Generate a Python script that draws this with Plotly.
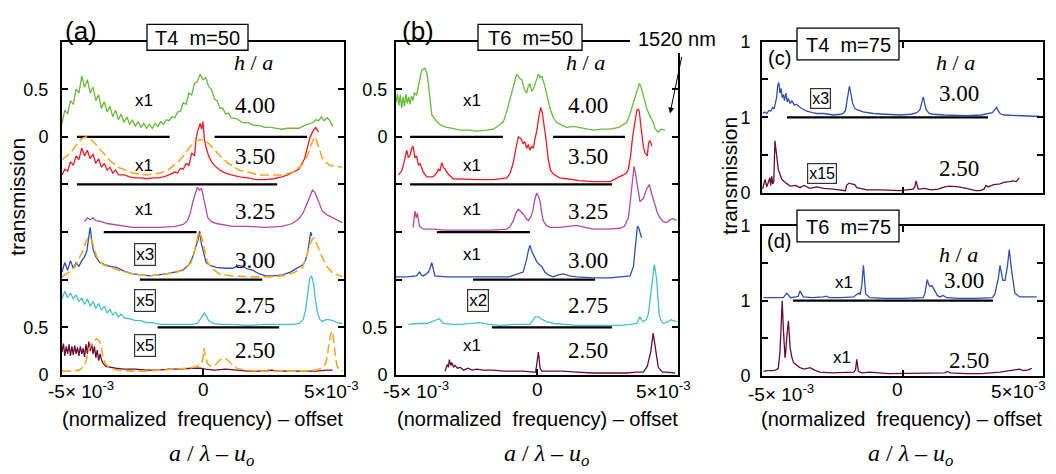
import plotly.graph_objects as go

W, H = 1056, 474

# ---------------- data (x in units of 1e-3; y = displayed transmission above each trace's baseline) -------------
# panel (a)  T4 m=50
a400_x = [-5.0,-4.9,-4.8,-4.7,-4.6,-4.5,-4.4,-4.3,-4.2,-4.1,-4.0,-3.9,-3.8,-3.7,-3.6,-3.5,-3.4,-3.3,-3.2,-3.1,-3.0,-2.9,-2.8,-2.7,-2.6,-2.5,-2.4,-2.3,-2.2,-2.1,-2.0,-1.9,-1.8,-1.7,-1.6,-1.5,-1.4,-1.3,-1.2,-1.1,-1.0,-0.9,-0.8,-0.7,-0.6,-0.5,-0.4,-0.3,-0.2,-0.1,0.0,0.1,0.2,0.3,0.4,0.5,0.6,0.7,0.8,0.9,1.0,1.2,1.4,1.6,1.8,2.0,2.2,2.4,2.6,2.8,3.0,3.2,3.4,3.6,3.8,3.9,4.0,4.1,4.2,4.3,4.4,4.5,4.6]
a400_y = [0.14,0.28,0.24,0.38,0.34,0.50,0.46,0.64,0.52,0.60,0.46,0.52,0.38,0.44,0.30,0.37,0.26,0.32,0.21,0.28,0.18,0.24,0.15,0.21,0.13,0.18,0.11,0.16,0.10,0.14,0.09,0.13,0.09,0.14,0.11,0.16,0.13,0.18,0.17,0.21,0.20,0.26,0.27,0.36,0.34,0.46,0.44,0.56,0.58,0.66,0.60,0.62,0.53,0.50,0.40,0.38,0.30,0.30,0.24,0.25,0.20,0.19,0.15,0.15,0.12,0.12,0.10,0.10,0.09,0.08,0.09,0.09,0.09,0.12,0.14,0.15,0.18,0.17,0.21,0.17,0.20,0.17,0.11]

a350_x = [-5.0,-4.9,-4.8,-4.7,-4.6,-4.5,-4.4,-4.3,-4.2,-4.1,-4.0,-3.9,-3.8,-3.7,-3.6,-3.5,-3.4,-3.3,-3.2,-3.1,-3.0,-2.8,-2.6,-2.4,-2.2,-2.0,-1.8,-1.6,-1.4,-1.2,-1.0,-0.9,-0.8,-0.7,-0.6,-0.5,-0.4,-0.3,-0.25,-0.2,-0.1,-0.05,0.0,0.05,0.1,0.2,0.3,0.4,0.6,0.8,1.0,1.3,1.6,1.9,2.2,2.5,2.8,3.0,3.2,3.4,3.6,3.7,3.8,3.9,4.0,4.1]
a350_y = [0.10,0.16,0.14,0.24,0.20,0.30,0.26,0.38,0.30,0.36,0.27,0.32,0.22,0.27,0.18,0.22,0.15,0.18,0.12,0.15,0.10,0.10,0.08,0.07,0.07,0.06,0.07,0.07,0.08,0.10,0.13,0.12,0.17,0.16,0.22,0.20,0.33,0.30,0.47,0.55,0.64,0.58,0.66,0.47,0.40,0.30,0.24,0.20,0.15,0.12,0.10,0.08,0.07,0.05,0.05,0.06,0.08,0.10,0.13,0.16,0.27,0.38,0.50,0.56,0.60,0.55]
a350fit_x = [-5.0,-4.7,-4.5,-4.3,-4.15,-4.0,-3.8,-3.6,-3.3,-3.0,-2.5,-2.0,-1.5,-1.2,-0.8,-0.5,-0.3,-0.1,0.1,0.3,0.6,0.9,1.3,2.0,2.8,3.2,3.5,3.7,3.85,3.98,4.1,4.25,4.5,4.95]
a350fit_y = [0.26,0.33,0.41,0.48,0.50,0.48,0.42,0.35,0.25,0.18,0.12,0.10,0.12,0.16,0.26,0.38,0.45,0.47,0.46,0.40,0.30,0.22,0.15,0.10,0.10,0.13,0.20,0.30,0.43,0.50,0.40,0.26,0.20,0.18]

a325_x = [-4.2,-4.1,-4.0,-3.9,-3.8,-3.6,-3.4,-3.0,-2.5,-2.0,-1.5,-1.0,-0.7,-0.55,-0.45,-0.36,-0.28,-0.2,-0.12,-0.05,0.05,0.17,0.3,0.47,1.05,1.6,2.2,2.8,3.17,3.4,3.55,3.7,3.8,3.88,3.96,4.06,4.15,4.23,4.4,4.59,4.94]
a325_y = [0.11,0.15,0.13,0.15,0.12,0.11,0.09,0.07,0.05,0.05,0.05,0.06,0.08,0.12,0.20,0.32,0.40,0.47,0.44,0.46,0.32,0.15,0.11,0.09,0.06,0.06,0.05,0.06,0.09,0.14,0.20,0.30,0.38,0.44,0.42,0.35,0.28,0.22,0.18,0.15,0.10]

a300_x = [-5.0,-4.9,-4.8,-4.7,-4.6,-4.5,-4.4,-4.3,-4.2,-4.12,-4.05,-4.0,-3.95,-3.89,-3.8,-3.66,-3.5,-3.3,-3.07,-2.8,-2.48,-2.2,-1.89,-1.6,-1.3,-1.0,-0.71,-0.5,-0.36,-0.24,-0.18,-0.12,-0.06,0.0,0.11,0.25,0.47,0.8,1.05,1.25,1.41,1.6,1.76,2.0,2.23,2.5,2.82,3.1,3.41,3.55,3.64,3.72,3.78,3.82,3.86]
a300_y = [0.08,0.18,0.10,0.20,0.12,0.18,0.14,0.20,0.24,0.30,0.45,0.55,0.42,0.31,0.24,0.18,0.16,0.14,0.13,0.09,0.06,0.05,0.04,0.05,0.06,0.08,0.10,0.16,0.24,0.36,0.41,0.51,0.38,0.31,0.18,0.15,0.13,0.12,0.12,0.15,0.14,0.11,0.10,0.06,0.04,0.04,0.05,0.08,0.13,0.16,0.21,0.30,0.42,0.50,0.46]
a300fit_x = [-5.0,-4.75,-4.55,-4.4,-4.25,-4.15,-4.07,-3.95,-3.77,-3.55,-3.3,-3.0,-2.48,-1.9,-1.3,-0.9,-0.55,-0.42,-0.3,-0.24,-0.15,-0.07,0.0,0.1,0.17,0.3,0.58,1.0,1.76,2.5,2.82,3.2,3.53,3.68,3.76,3.88,3.94,4.0,4.12,4.25,4.41,4.6,4.94]
a300fit_y = [0.03,0.08,0.13,0.22,0.31,0.40,0.45,0.42,0.24,0.16,0.13,0.10,0.06,0.04,0.06,0.08,0.14,0.18,0.30,0.38,0.50,0.46,0.40,0.25,0.18,0.12,0.06,0.04,0.03,0.03,0.04,0.07,0.13,0.25,0.35,0.43,0.44,0.40,0.31,0.22,0.13,0.07,0.03]

a275_x = [-5.0,-4.9,-4.8,-4.7,-4.6,-4.5,-4.4,-4.3,-4.2,-4.1,-4.0,-3.9,-3.8,-3.7,-3.6,-3.5,-3.4,-3.3,-3.2,-3.1,-3.0,-2.9,-2.8,-2.6,-2.4,-2.2,-2.0,-1.8,-1.5,-1.3,-1.0,-0.7,-0.4,-0.2,-0.1,0.0,0.05,0.11,0.2,0.35,0.6,1.0,1.6,2.2,2.8,3.2,3.41,3.55,3.64,3.72,3.78,3.85,3.92,3.98,4.06,4.15,4.23,4.35,4.47,4.6,4.75,4.94]
a275_y = [0.30,0.38,0.31,0.36,0.30,0.34,0.27,0.31,0.24,0.30,0.22,0.27,0.20,0.25,0.18,0.22,0.15,0.19,0.13,0.16,0.11,0.14,0.10,0.09,0.07,0.07,0.05,0.05,0.03,0.03,0.03,0.03,0.03,0.04,0.08,0.13,0.15,0.12,0.07,0.04,0.03,0.03,0.02,0.03,0.03,0.03,0.04,0.08,0.18,0.36,0.51,0.54,0.46,0.30,0.15,0.08,0.06,0.08,0.08,0.07,0.05,0.04]

a250_x = [-5.0,-4.95,-4.9,-4.85,-4.8,-4.75,-4.7,-4.65,-4.6,-4.55,-4.5,-4.45,-4.4,-4.35,-4.3,-4.25,-4.2,-4.15,-4.1,-4.05,-4.0,-3.95,-3.9,-3.85,-3.8,-3.75,-3.7,-3.65,-3.6,-3.54,-3.45,-3.3,-3.1,-2.8,-2.4,-2.0,-1.6,-1.2,-0.8,-0.4,-0.1,0.1,0.4,0.8,1.2,1.6,2.0,2.4,2.8,3.2,3.6,4.0,4.4,4.6]
a250_y = [0.24,0.33,0.20,0.30,0.22,0.32,0.20,0.30,0.21,0.31,0.22,0.29,0.20,0.30,0.22,0.28,0.19,0.32,0.22,0.35,0.25,0.33,0.22,0.30,0.18,0.26,0.15,0.22,0.16,0.12,0.09,0.08,0.07,0.06,0.06,0.05,0.05,0.06,0.06,0.07,0.07,0.06,0.05,0.06,0.05,0.04,0.04,0.05,0.04,0.04,0.04,0.04,0.05,0.05]
a250fit_x = [-5.0,-4.7,-4.4,-4.25,-4.15,-4.07,-3.95,-3.85,-3.77,-3.66,-3.6,-3.54,-3.45,-3.3,-3.0,-2.5,-2.0,-1.5,-1.0,-0.5,-0.2,-0.05,0.0,0.03,0.07,0.15,0.3,0.45,0.6,0.82,1.0,1.2,1.5,2.0,2.5,3.0,3.5,4.0,4.2,4.35,4.41,4.47,4.53,4.59,4.65,4.72,4.76,4.85,4.95]
a250fit_y = [0.04,0.04,0.05,0.08,0.14,0.25,0.33,0.36,0.38,0.35,0.28,0.17,0.11,0.07,0.05,0.04,0.04,0.05,0.06,0.07,0.09,0.12,0.18,0.28,0.22,0.12,0.09,0.11,0.16,0.17,0.12,0.07,0.05,0.04,0.04,0.04,0.04,0.05,0.07,0.12,0.20,0.33,0.43,0.46,0.30,0.15,0.09,0.05,0.04]

# panel (b)  T6 m=50
b400_x = [-5.0,-4.95,-4.9,-4.85,-4.8,-4.75,-4.7,-4.65,-4.6,-4.55,-4.5,-4.45,-4.4,-4.35,-4.27,-4.18,-4.09,-3.97,-3.9,-3.85,-3.8,-3.73,-3.65,-3.56,-3.4,-3.2,-3.0,-2.73,-2.4,-2.14,-1.8,-1.55,-1.35,-1.19,-1.08,-0.96,-0.84,-0.72,-0.63,-0.54,-0.45,-0.37,-0.31,-0.25,-0.19,-0.13,-0.04,0.05,0.11,0.17,0.28,0.37,0.46,0.58,0.70,0.9,1.05,1.3,1.52,1.8,2.0,2.3,2.59,2.9,3.18,3.3,3.42,3.52,3.63,3.69,3.75,3.82,3.89,4.0,4.12,4.2,4.3,4.4,4.54]
b400_y = [0.36,0.45,0.33,0.44,0.30,0.42,0.32,0.45,0.35,0.42,0.34,0.43,0.38,0.46,0.44,0.58,0.70,0.72,0.66,0.55,0.40,0.23,0.20,0.16,0.12,0.10,0.09,0.07,0.07,0.06,0.07,0.08,0.12,0.16,0.26,0.40,0.55,0.66,0.62,0.60,0.50,0.46,0.53,0.56,0.48,0.50,0.58,0.66,0.62,0.64,0.53,0.40,0.30,0.20,0.15,0.12,0.10,0.11,0.10,0.08,0.07,0.08,0.08,0.10,0.15,0.24,0.36,0.45,0.56,0.52,0.46,0.38,0.30,0.22,0.15,0.08,0.05,0.08,0.07]

b350_x = [-4.92,-4.8,-4.74,-4.68,-4.62,-4.56,-4.5,-4.44,-4.39,-4.33,-4.27,-4.2,-4.15,-4.03,-3.91,-3.68,-3.56,-3.5,-3.44,-3.38,-3.32,-3.26,-3.15,-2.97,-2.5,-2.14,-1.55,-1.07,-0.95,-0.84,-0.75,-0.66,-0.57,-0.49,-0.43,-0.37,-0.31,-0.25,-0.19,-0.13,-0.07,-0.01,0.06,0.13,0.19,0.25,0.33,0.40,0.48,0.58,0.8,1.05,1.5,2.0,2.59,3.06,3.17,3.24,3.32,3.39,3.47,3.54,3.6,3.63,3.67,3.71,3.77,3.83,3.91,3.96,4.01,4.08]
b350_y = [0.10,0.14,0.20,0.30,0.36,0.28,0.31,0.38,0.40,0.28,0.30,0.20,0.22,0.13,0.08,0.08,0.12,0.16,0.14,0.23,0.18,0.16,0.11,0.06,0.05,0.05,0.05,0.07,0.12,0.23,0.38,0.50,0.48,0.43,0.45,0.38,0.42,0.36,0.40,0.38,0.48,0.56,0.70,0.81,0.75,0.63,0.45,0.26,0.15,0.11,0.07,0.06,0.04,0.03,0.03,0.10,0.12,0.16,0.30,0.50,0.68,0.78,0.79,0.76,0.65,0.53,0.40,0.33,0.30,0.44,0.46,0.40]

b325_x = [-4.39,-4.36,-4.33,-4.28,-4.24,-4.17,-4.03,-3.6,-3.32,-2.7,-2.14,-1.6,-1.07,-0.95,-0.84,-0.75,-0.66,-0.58,-0.49,-0.4,-0.31,-0.22,-0.15,-0.08,-0.01,0.05,0.11,0.17,0.22,0.33,0.46,0.8,1.1,1.41,1.7,2.0,2.5,2.94,3.1,3.24,3.3,3.36,3.44,3.49,3.54,3.6,3.65,3.72,3.77,3.87,3.98,4.07,4.18,4.27,4.36,4.48,4.60,4.72,4.83,4.95]
b325_y = [0.05,0.18,0.22,0.15,0.20,0.06,0.03,0.03,0.02,0.02,0.02,0.02,0.03,0.06,0.12,0.20,0.24,0.22,0.19,0.15,0.12,0.16,0.22,0.34,0.41,0.38,0.32,0.20,0.12,0.07,0.05,0.05,0.06,0.07,0.05,0.03,0.03,0.04,0.06,0.15,0.30,0.45,0.69,0.62,0.52,0.40,0.32,0.34,0.35,0.44,0.50,0.40,0.29,0.20,0.15,0.11,0.10,0.13,0.14,0.12]

b300_x = [-5.0,-4.6,-4.27,-4.17,-4.1,-4.03,-3.93,-3.85,-3.79,-3.73,-3.67,-3.62,-3.2,-2.73,-2.1,-1.55,-1.0,-0.49,-0.43,-0.37,-0.31,-0.25,-0.19,-0.13,-0.07,-0.01,0.08,0.17,0.28,0.4,0.58,0.75,0.93,1.15,1.41,2.0,2.59,3.0,3.30,3.42,3.48,3.51,3.56,3.6,3.65,3.71]
b300_y = [0.03,0.03,0.04,0.08,0.05,0.04,0.06,0.08,0.12,0.18,0.10,0.04,0.03,0.03,0.03,0.03,0.03,0.08,0.14,0.21,0.30,0.36,0.30,0.26,0.22,0.19,0.16,0.14,0.08,0.05,0.03,0.05,0.06,0.04,0.03,0.02,0.02,0.03,0.04,0.14,0.30,0.41,0.56,0.55,0.50,0.44]

b275_x = [-4.56,-4.2,-3.91,-3.7,-3.56,-3.46,-3.32,-3.0,-2.73,-2.3,-2.02,-1.7,-1.31,-0.8,-0.25,-0.07,0.05,0.2,0.34,0.6,0.93,1.4,2.0,2.5,2.94,3.3,3.54,3.65,3.72,3.77,3.87,3.95,4.02,4.07,4.16,4.24,4.33,4.4,4.48,4.66,4.75,4.83,4.95]
b275_y = [0.03,0.04,0.04,0.06,0.08,0.09,0.04,0.03,0.03,0.04,0.05,0.03,0.02,0.03,0.03,0.11,0.11,0.08,0.06,0.04,0.03,0.02,0.02,0.02,0.02,0.03,0.04,0.11,0.07,0.06,0.08,0.14,0.30,0.41,0.66,0.51,0.14,0.07,0.04,0.06,0.08,0.07,0.06]

b250_x = [-3.26,-3.22,-3.18,-3.14,-3.11,-3.06,-3.02,-2.96,-2.91,-2.82,-2.73,-2.6,-2.45,-2.3,-2.14,-1.9,-1.55,-1.2,-0.96,-0.5,-0.13,-0.05,-0.01,0.05,0.11,0.17,0.3,0.6,0.93,1.4,2.0,2.6,3.18,3.5,3.77,3.91,3.98,4.03,4.08,4.12,4.16,4.21,4.30,4.45,4.60,4.89]
b250_y = [0.04,0.09,0.11,0.08,0.16,0.10,0.13,0.08,0.10,0.07,0.08,0.05,0.07,0.05,0.06,0.05,0.05,0.04,0.04,0.04,0.03,0.03,0.11,0.24,0.07,0.04,0.04,0.04,0.04,0.03,0.02,0.02,0.02,0.03,0.03,0.09,0.18,0.24,0.35,0.44,0.36,0.24,0.08,0.03,0.03,0.02]

# panel (c)  T4 m=75
c300_x = [-4.98,-4.9,-4.83,-4.75,-4.69,-4.62,-4.57,-4.52,-4.48,-4.44,-4.40,-4.36,-4.32,-4.28,-4.24,-4.2,-4.15,-4.1,-4.06,-4.0,-3.94,-3.85,-3.77,-3.6,-3.41,-3.2,-3.05,-2.8,-2.46,-2.2,-2.11,-2.03,-1.99,-1.94,-1.89,-1.83,-1.77,-1.7,-1.63,-1.4,-1.04,-0.6,-0.09,0.3,0.51,0.62,0.66,0.70,0.74,0.79,0.84,0.95,1.10,1.5,2.28,2.8,3.11,3.2,3.26,3.31,3.35,3.40,3.47,3.6,4.06,4.5,4.89]
c300_y = [0.05,0.07,0.05,0.09,0.08,0.13,0.11,0.19,0.26,0.42,0.46,0.32,0.38,0.26,0.30,0.22,0.32,0.20,0.25,0.18,0.22,0.16,0.17,0.12,0.08,0.06,0.05,0.05,0.03,0.04,0.05,0.09,0.20,0.32,0.41,0.30,0.18,0.12,0.10,0.07,0.05,0.04,0.03,0.04,0.06,0.10,0.16,0.22,0.27,0.18,0.10,0.05,0.04,0.03,0.02,0.03,0.05,0.06,0.09,0.12,0.13,0.09,0.05,0.03,0.02,0.02,0.01]
c250_x = [-4.98,-4.92,-4.89,-4.83,-4.77,-4.72,-4.69,-4.65,-4.62,-4.58,-4.54,-4.5,-4.48,-4.42,-4.36,-4.30,-4.18,-4.0,-3.8,-3.65,-3.5,-3.3,-3.05,-2.8,-2.46,-2.11,-2.03,-1.99,-1.9,-1.81,-1.7,-1.63,-1.4,-1.27,-0.8,-0.09,0.38,0.44,0.48,0.52,0.56,0.8,1.0,1.27,1.5,1.69,2.0,2.28,2.6,2.76,2.9,2.97,3.05,3.11,3.25,3.47,3.6,3.8,3.95,4.05,4.15]
c250_y = [0.05,0.12,0.18,0.08,0.15,0.20,0.10,0.22,0.12,0.15,0.69,0.55,0.52,0.31,0.25,0.18,0.14,0.09,0.10,0.07,0.10,0.06,0.08,0.06,0.05,0.03,0.03,0.10,0.13,0.12,0.11,0.07,0.05,0.04,0.04,0.03,0.05,0.08,0.16,0.08,0.05,0.06,0.04,0.05,0.08,0.09,0.08,0.06,0.03,0.03,0.05,0.10,0.08,0.09,0.11,0.12,0.14,0.15,0.16,0.15,0.20]

# panel (d)  T6 m=75
d300_x = [-4.95,-4.6,-4.24,-4.12,-4.03,-3.98,-3.8,-3.71,-3.65,-3.58,-3.53,-3.2,-2.9,-2.82,-2.72,-2.6,-2.2,-1.73,-1.65,-1.55,-1.51,-1.45,-1.39,-1.35,-1.31,-1.16,-0.6,0.0,0.5,0.74,0.80,0.88,0.93,0.98,1.05,1.10,1.17,1.24,1.33,1.45,1.57,2.0,2.6,3.11,3.2,3.29,3.35,3.41,3.47,3.52,3.57,3.65,3.73,3.80,3.85,3.89,4.0,4.17,4.5,4.78]
d300_y = [0.04,0.04,0.04,0.10,0.05,0.04,0.05,0.06,0.13,0.07,0.05,0.04,0.04,0.05,0.06,0.04,0.04,0.05,0.08,0.10,0.08,0.20,0.47,0.25,0.09,0.04,0.03,0.03,0.03,0.04,0.10,0.28,0.22,0.19,0.20,0.17,0.13,0.07,0.05,0.07,0.04,0.03,0.03,0.03,0.04,0.09,0.20,0.30,0.47,0.35,0.27,0.27,0.45,0.68,0.50,0.38,0.10,0.05,0.05,0.05]
d250_x = [-4.95,-4.8,-4.6,-4.5,-4.42,-4.36,-4.32,-4.28,-4.24,-4.21,-4.18,-4.16,-4.13,-4.10,-4.06,-4.03,-4.0,-3.94,-3.88,-3.83,-3.75,-3.65,-3.5,-3.41,-3.29,-3.15,-2.94,-2.5,-2.0,-1.73,-1.67,-1.63,-1.59,-1.57,-1.45,-1.16,-0.5,-0.09,0.5,1.1,1.5,1.6,1.7,2.28,2.8,3.47,3.8,3.94,4.17,4.3,4.48,4.6]
d250_y = [0.06,0.07,0.07,0.08,0.10,0.32,0.66,1.00,0.62,0.35,0.24,0.30,0.53,0.60,0.73,0.55,0.38,0.25,0.18,0.16,0.14,0.11,0.09,0.10,0.11,0.08,0.05,0.04,0.04,0.05,0.08,0.22,0.12,0.06,0.04,0.05,0.03,0.03,0.03,0.03,0.04,0.06,0.04,0.03,0.03,0.05,0.07,0.08,0.09,0.07,0.08,0.10]

# baselines (vertical offsets of each stacked trace)
ha_labels_ab = ["4.00", "3.50", "3.25", "3.00", "2.75", "2.50"]
offsets_ab = [2.5, 2.0, 1.5, 1.0, 0.5, 0.0]
scale_a = ["x1", "x1", "x1", "x3", "x5", "x5"]
scale_b = ["x1", "x1", "x1", "x1", "x2", "x1"]
ha_labels_cd = ["3.00", "2.50"]
offsets_cd = [1.0, 0.0]
scale_c = ["x3", "x15"]
scale_d = ["x1", "x1"]

# black zero-line segments: (level, x start, x end)
seg_a_lvl = [2.5, 2.5, 2.0, 1.5, 1.0, 0.5]
seg_a_x0 = [-4.47, 0.41, -4.47, -3.52, -2.24, -1.61]
seg_a_x1 = [-1.18, 3.69, 2.63, -0.23, 2.10, 2.70]
seg_b_lvl = [2.5, 2.5, 2.0, 1.5, 1.0, 0.5]
seg_b_x0 = [-4.50, 0.57, -4.50, -3.55, -2.27, -1.60]
seg_b_x1 = [-1.21, 3.12, 2.66, -0.25, 2.06, 2.66]
seg_c_lvl = [1.0]
seg_c_x0 = [-4.11]
seg_c_x1 = [3.04]
seg_d_lvl = [1.0]
seg_d_x0 = [-3.90]
seg_d_x1 = [3.22]

# y tick labels
yt_ab_vals = [0, 0.5, 1, 1.5, 2, 2.5, 3]
yt_ab_text = ["0", "0.5", "", "", "", "0", "0.5"]
yt_cd_vals = [0, 0.5, 1, 1.5, 2]
yt_cd_text = ["0", "", "1", "", "1"]

# ---------------- styling ----------------
GREEN = "#66bb3a"; RED = "#ec1c24"; ORANGE = "#f7a823"; MAG = "#b648a6"
BLUE = "#2f4fb5"; CYAN = "#44c2c4"; MAROON = "#6a0d33"
SANS = "Liberation Sans"; SERIF = "Liberation Serif, DejaVu Serif, serif"

def px(x): return x / W
def py(y): return 1 - y / H

fig = go.Figure()

def add_line(xs, ys, off, color, ax, dash=None, width=1.3):
    fig.add_trace(go.Scatter(x=xs, y=[v + off for v in ys], mode="lines",
                             line=dict(color=color, width=width, dash=dash),
                             xaxis=ax[0], yaxis=ax[1], showlegend=False, hoverinfo="skip"))

def add_segs(lvls, x0s, x1s, ax):
    for l, a, b in zip(lvls, x0s, x1s):
        fig.add_trace(go.Scatter(x=[a, b], y=[l, l], mode="lines", line=dict(color="black", width=2.2),
                                 xaxis=ax[0], yaxis=ax[1], showlegend=False, hoverinfo="skip"))

DASH = "9px,4px"
A = ("x", "y"); B = ("x2", "y2"); C = ("x3", "y3"); D = ("x4", "y4")

add_segs(seg_a_lvl, seg_a_x0, seg_a_x1, A)
add_line(a400_x, a400_y, offsets_ab[0], GREEN, A)
add_line(a350_x, a350_y, offsets_ab[1], RED, A)
add_line(a350fit_x, a350fit_y, offsets_ab[1], ORANGE, A, DASH, 1.6)
add_line(a325_x, a325_y, offsets_ab[2], MAG, A)
add_line(a300_x, a300_y, offsets_ab[3], BLUE, A)
add_line(a300fit_x, a300fit_y, offsets_ab[3], ORANGE, A, DASH, 1.6)
add_line(a275_x, a275_y, offsets_ab[4], CYAN, A)
add_line(a250_x, a250_y, offsets_ab[5], MAROON, A)
add_line(a250fit_x, a250fit_y, offsets_ab[5], ORANGE, A, DASH, 1.6)

add_segs(seg_b_lvl, seg_b_x0, seg_b_x1, B)
add_line(b400_x, b400_y, offsets_ab[0], GREEN, B)
add_line(b350_x, b350_y, offsets_ab[1], RED, B)
add_line(b325_x, b325_y, offsets_ab[2], MAG, B)
add_line(b300_x, b300_y, offsets_ab[3], BLUE, B)
add_line(b275_x, b275_y, offsets_ab[4], CYAN, B)
add_line(b250_x, b250_y, offsets_ab[5], MAROON, B)

add_segs(seg_c_lvl, seg_c_x0, seg_c_x1, C)
add_line(c300_x, c300_y, offsets_cd[0], BLUE, C)
add_line(c250_x, c250_y, offsets_cd[1], MAROON, C)

add_segs(seg_d_lvl, seg_d_x0, seg_d_x1, D)
add_line(d300_x, d300_y, offsets_cd[0], BLUE, D)
add_line(d250_x, d250_y, offsets_cd[1], MAROON, D)

axis_style = dict(showline=True, mirror="allticks", linecolor="black", linewidth=2,
                  ticks="inside", ticklen=6, tickwidth=1.5, tickcolor="black",
                  showgrid=False, zeroline=False,
                  tickfont=dict(family=SANS, size=18, color="black"))

def xax(dom, anchor):
    return dict(axis_style, domain=dom, anchor=anchor, range=[-5, 5], tickvals=[0], showticklabels=False)

def yax(dom, anchor, rng, vals, text, standoff):
    return dict(axis_style, domain=dom, anchor=anchor, range=rng, tickvals=vals, ticktext=text,
                ticklabelstandoff=standoff)

fig.update_layout(
    width=W, height=H, margin=dict(l=0, r=0, t=0, b=0),
    paper_bgcolor="white", plot_bgcolor="white", showlegend=False,
    xaxis=xax([px(62), px(344)], "y"),
    yaxis=yax([py(381), py(33)], "x", [0, 3.5], yt_ab_vals, yt_ab_text, 8),
    xaxis2=xax([px(396), px(678)], "y2"),
    yaxis2=yax([py(381), py(33)], "x2", [0, 3.5], yt_ab_vals, yt_ab_text, 3),
    xaxis3=xax([px(762), px(1043)], "y3"),
    yaxis3=yax([py(191), py(33)], "x3", [0, 2], yt_cd_vals, yt_cd_text, 6),
    xaxis4=xax([px(762), px(1043)], "y4"),
    yaxis4=yax([py(382), py(225)], "x4", [0, 2], yt_cd_vals, yt_cd_text, 6),
)

shapes = []
ann = []

def text(x, y, s, size=18, family=SANS, **kw):
    ann.append(dict(x=px(x), y=py(y), xref="paper", yref="paper", text=s, showarrow=False,
                    font=dict(family=family, size=size, color="black"),
                    xanchor="center", yanchor="middle", **kw))

def titlebox(x0, x1, y0, y1, s, size=20):
    shapes.append(dict(type="rect", xref="paper", yref="paper", x0=px(x0), x1=px(x1), y0=py(y1), y1=py(y0),
                       line=dict(color="black", width=1.3), fillcolor="white", layer="above"))
    text((x0 + x1) / 2, (y0 + y1) / 2 + 1, s, size)

def boxed(x, y, s, size=17):
    text(x, y, s, size, bordercolor="#333333", borderwidth=1.2, borderpad=1, bgcolor="white")

# panel headers
titlebox(147, 248, 15, 42, "T4\u00a0\u00a0m=50")
titlebox(478, 582, 15, 42, "T6\u00a0\u00a0m=50")
titlebox(797, 899, 19, 52, "T4\u00a0\u00a0m=75")
titlebox(797, 899, 209, 242, "T6\u00a0\u00a0m=75")
text(81, 22, "(a)", 26)
text(418, 22, "(b)", 26)
text(779, 50, "(c)", 20)
text(779, 241, "(d)", 20)

# 1520 nm marker
shapes.append(dict(type="rect", xref="paper", yref="paper", x0=px(630), x1=px(722), y0=py(45), y1=py(16),
                   line=dict(width=0), fillcolor="white", layer="above"))
text(677, 30, "1520 nm", 20)
ann.append(dict(x=px(670), y=py(108), xref="paper", yref="paper", ax=12, ay=-58, axref="pixel", ayref="pixel",
                text="", showarrow=True, arrowhead=2, arrowsize=1.2, arrowwidth=1, arrowcolor="black"))

# h/a headers
HA = "<i>h</i> / <i>a</i>"
for (x, y) in [(253, 55), (585, 55), (955, 55), (958, 255)]:
    text(x, y, HA, 22, SERIF)

# stacked trace labels for (a) and (b)
lab_y_ab = [100, 153, 210, 262, 309, 355]
sc_y_ab = [95, 162, 208, 255, 303, 350]
for i in range(6):
    text(255, lab_y_ab[i], ha_labels_ab[i], 23, SERIF)
    text(588, lab_y_ab[i], ha_labels_ab[i], 23, SERIF)
    if scale_a[i] == "x1":
        text(144, sc_y_ab[i], scale_a[i], 17)
    else:
        boxed(145, sc_y_ab[i], scale_a[i])
    if scale_b[i] == "x1":
        text(472, sc_y_ab[i], scale_b[i], 17)
    else:
        boxed(478, sc_y_ab[i], scale_b[i])

# (c) and (d)
text(959, 87, ha_labels_cd[0], 23, SERIF)
text(959, 166, ha_labels_cd[1], 23, SERIF)
boxed(820, 92, scale_c[0], 16)
boxed(822, 171, scale_c[1], 16)
text(964, 282, ha_labels_cd[0], 23, SERIF)
text(969, 366, ha_labels_cd[1], 23, SERIF)
text(844, 284, scale_d[0], 17)
text(842, 363, scale_d[1], 17)

# x tick labels and titles
XT_L = "-5× 10<sup>-3</sup>"
XT_R = "5×10<sup>-3</sup>"
for (l, ly, z, r, c) in [(81, 397, 203, 331, 202), (416, 397, 537, 663, 537), (781, 400, 897, 1018, 901)]:
    text(l, ly, XT_L, 19)
    text(z, 396, "0", 19)
    text(r, 397, XT_R, 19)
    text(c, 427, "(normalized\u00a0\u00a0frequency) – offset", 20)
    text(c + 9, 465, "<i>a</i> / <i>λ</i> – <i>u<sub>o</sub></i>", 24, SERIF)

# y titles
text(18, 195, "transmission", 21, textangle=-90)
text(730, 173, "transmission", 21, textangle=-90)

fig.update_layout(shapes=shapes, annotations=ann)
fig.write_html("out.html", config={"displayModeBar": False},
               post_script="document.body.style.margin='0';document.body.style.overflow='hidden';")
